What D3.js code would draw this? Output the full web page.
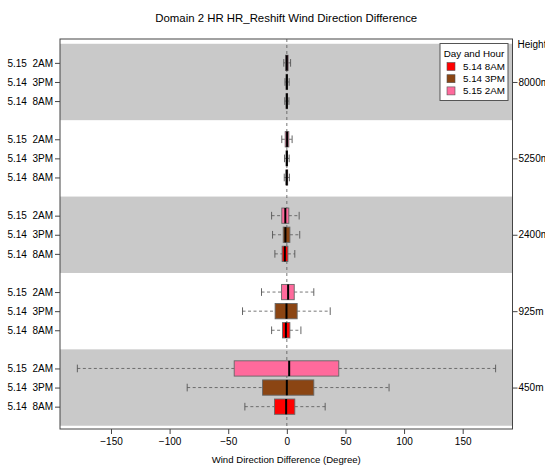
<!DOCTYPE html>
<html>
<head>
<meta charset="utf-8">
<script src="https://cdn.jsdelivr.net/npm/d3@7"></script>
<style>
  body { margin: 0; background: #fff; }
  text { font-family: "Liberation Sans", Arial, sans-serif; fill: #000; }
</style>
</head>
<body>
<div id="chart"></div>
<script>
const width = 545;
const height = 469;

// heights from bottom to top, series order inside each group
const heights = ["450m", "925m", "2400m", "5250m", "8000m"];
const series = ["5.14 8AM", "5.14 3PM", "5.15 2AM"];
const rowLabels = ["5.14  8AM", "5.14  3PM", "5.15  2AM"];
const colors = ["#FF0000", "#8B4513", "#FF6A9C"];
const xTicks = [-150, -100, -50, 0, 50, 100, 150];

// [whiskerLow, q1, median, q3, whiskerHigh] per height, per series
const stats450 = [
  [-35.8, -10.5, -0.6, 6.8, 32.7],
  [-85, -20.7, 0, 23, 87.2],
  [-178.7, -44.9, 2, 44.3, 178.1]
];
const stats925 = [
  [-13, -3.7, -0.8, 2.6, 12],
  [-37.8, -10, -0.3, 8.8, 37],
  [-21.6, -4.5, 1.1, 6.3, 23]
];
const stats2400 = [
  [-10.2, -4, -1.7, 0.9, 6.8],
  [-12.2, -3.1, -1.2, 2.6, 11],
  [-13, -4.3, -1.3, 1.7, 10.5]
];
const stats5250 = [
  [-2.2, -0.7, -0.1, 0.7, 2.2],
  [-2, -0.6, 0, 0.6, 2],
  [-4.3, -1.4, 0.2, 1.7, 4.5]
];
const stats8000 = [
  [-1.8, -0.6, 0, 0.6, 1.8],
  [-1.6, -0.6, 0, 0.6, 2],
  [-2.6, -1.1, 0, 1.1, 3.2]
];
const allStats = [stats450, stats925, stats2400, stats5250, stats8000];

const margin = {left: 60, right: 32.5, top: 39, bottom: 40};
const plotL = margin.left, plotR = width - margin.right;
const plotT = margin.top, plotB = height - margin.bottom;

const svg = d3.select("#chart").append("svg")
  .attr("width", width)
  .attr("height", height);

const x = d3.scaleLinear().domain([-193.5, 192.5]).range([plotL, plotR]);
// positions 1..19, each group takes 4 slots (3 boxes + gap)
const y = d3.scaleLinear().domain([-0.17, 20.25]).range([plotB, plotT]);

const boxes = [];
allStats.forEach((g, gi) => {
  g.forEach((s, si) => {
    boxes.push({pos: gi * 4 + si + 1, stats: s, color: colors[si], label: rowLabels[si]});
  });
});

// grey bands
svg.selectAll(".band")
  .data([0, 2, 4])
  .enter().append("rect")
  .attr("class", "band")
  .attr("x", plotL)
  .attr("width", plotR - plotL)
  .attr("y", d => y(d * 4 + 4))
  .attr("height", d => y(d * 4) - y(d * 4 + 4))
  .attr("fill", "#c9c9c9");

// zero reference line
svg.append("line")
  .attr("x1", x(0)).attr("x2", x(0))
  .attr("y1", plotT).attr("y2", plotB)
  .attr("stroke", "#555")
  .attr("stroke-width", 0.8)
  .attr("stroke-dasharray", "3,3");

const bh = y(0) - y(0.8);
const g = svg.selectAll(".box").data(boxes).enter().append("g").attr("class", "box");

g.append("line") // lower whisker
  .attr("x1", d => x(d.stats[0])).attr("x2", d => x(d.stats[1]))
  .attr("y1", d => y(d.pos)).attr("y2", d => y(d.pos))
  .attr("stroke", "#555").attr("stroke-width", 0.8).attr("stroke-dasharray", "3,2.5");
g.append("line") // upper whisker
  .attr("x1", d => x(d.stats[3])).attr("x2", d => x(d.stats[4]))
  .attr("y1", d => y(d.pos)).attr("y2", d => y(d.pos))
  .attr("stroke", "#555").attr("stroke-width", 0.8).attr("stroke-dasharray", "3,2.5");
[0, 4].forEach(k => {
  g.append("line")
    .attr("x1", d => x(d.stats[k])).attr("x2", d => x(d.stats[k]))
    .attr("y1", d => y(d.pos) - bh / 4).attr("y2", d => y(d.pos) + bh / 4)
    .attr("stroke", "#555").attr("stroke-width", 0.9);
});
g.append("rect")
  .attr("x", d => x(d.stats[1]))
  .attr("width", d => x(d.stats[3]) - x(d.stats[1]))
  .attr("y", d => y(d.pos) - bh / 2)
  .attr("height", bh)
  .attr("fill", d => d.color)
  .attr("stroke", "#666")
  .attr("stroke-width", 0.9);
g.append("line")
  .attr("x1", d => x(d.stats[2])).attr("x2", d => x(d.stats[2]))
  .attr("y1", d => y(d.pos) - bh / 2).attr("y2", d => y(d.pos) + bh / 2)
  .attr("stroke", "#000").attr("stroke-width", 2);

// frame
svg.append("rect")
  .attr("x", plotL).attr("y", plotT)
  .attr("width", plotR - plotL).attr("height", plotB - plotT)
  .attr("fill", "none").attr("stroke", "#444").attr("stroke-width", 1);

// axes
const xAxis = svg.append("g")
  .attr("transform", `translate(0,${plotB})`)
  .call(d3.axisBottom(x).tickValues(xTicks).tickSize(5).tickSizeOuter(0).tickPadding(4));
xAxis.select(".domain").remove();
xAxis.selectAll("text").style("font-size", "10px");
xAxis.selectAll("line").attr("stroke", "#444");

const yAxis = svg.append("g")
  .attr("transform", `translate(${plotL},0)`)
  .call(d3.axisLeft(y).tickValues(boxes.map(d => d.pos))
    .tickFormat(p => boxes.find(b => b.pos === p).label)
    .tickSize(5).tickPadding(2));
yAxis.select(".domain").remove();
yAxis.selectAll("text").style("font-size", "10px").style("white-space", "pre").attr("xml:space", "preserve");
yAxis.selectAll("line").attr("stroke", "#444");

const rAxis = svg.append("g")
  .attr("transform", `translate(${plotR},0)`)
  .call(d3.axisRight(y).tickValues(heights.map((h, i) => i * 4 + 2))
    .tickFormat((p, i) => heights[i]).tickSize(5).tickPadding(1));
rAxis.select(".domain").remove();
rAxis.selectAll("text").style("font-size", "10px");
rAxis.selectAll("line").attr("stroke", "#444");

svg.append("text")
  .attr("x", plotR + 5).attr("y", plotT + 9)
  .style("font-size", "10px")
  .text("Height");

// title and x label
svg.append("text")
  .attr("x", (plotL + plotR) / 2).attr("y", 22)
  .attr("text-anchor", "middle")
  .style("font-size", "11.4px")
  .text("Domain 2 HR HR_Reshift Wind Direction Difference");

svg.append("text")
  .attr("x", (plotL + plotR) / 2).attr("y", 463)
  .attr("text-anchor", "middle")
  .style("font-size", "9.6px")
  .text("Wind Direction Difference (Degree)");

// legend
const lg = svg.append("g").attr("transform", "translate(440,43.5)");
lg.append("rect")
  .attr("width", 68).attr("height", 57)
  .attr("fill", "#fff").attr("stroke", "#555").attr("stroke-width", 1);
lg.append("text").attr("x", 34).attr("y", 13).attr("text-anchor", "middle")
  .style("font-size", "9.8px").text("Day and Hour");
const items = lg.selectAll(".item").data(series).enter().append("g")
  .attr("transform", (d, i) => `translate(0,${23 + i * 12.2})`);
items.append("rect")
  .attr("x", 7).attr("y", -4).attr("width", 8).attr("height", 8)
  .attr("fill", (d, i) => colors[i]).attr("stroke", "#555").attr("stroke-width", 0.6);
items.append("text").attr("x", 23).attr("y", 3.5)
  .style("font-size", "9.8px").text(d => d);
</script>
</body>
</html>
